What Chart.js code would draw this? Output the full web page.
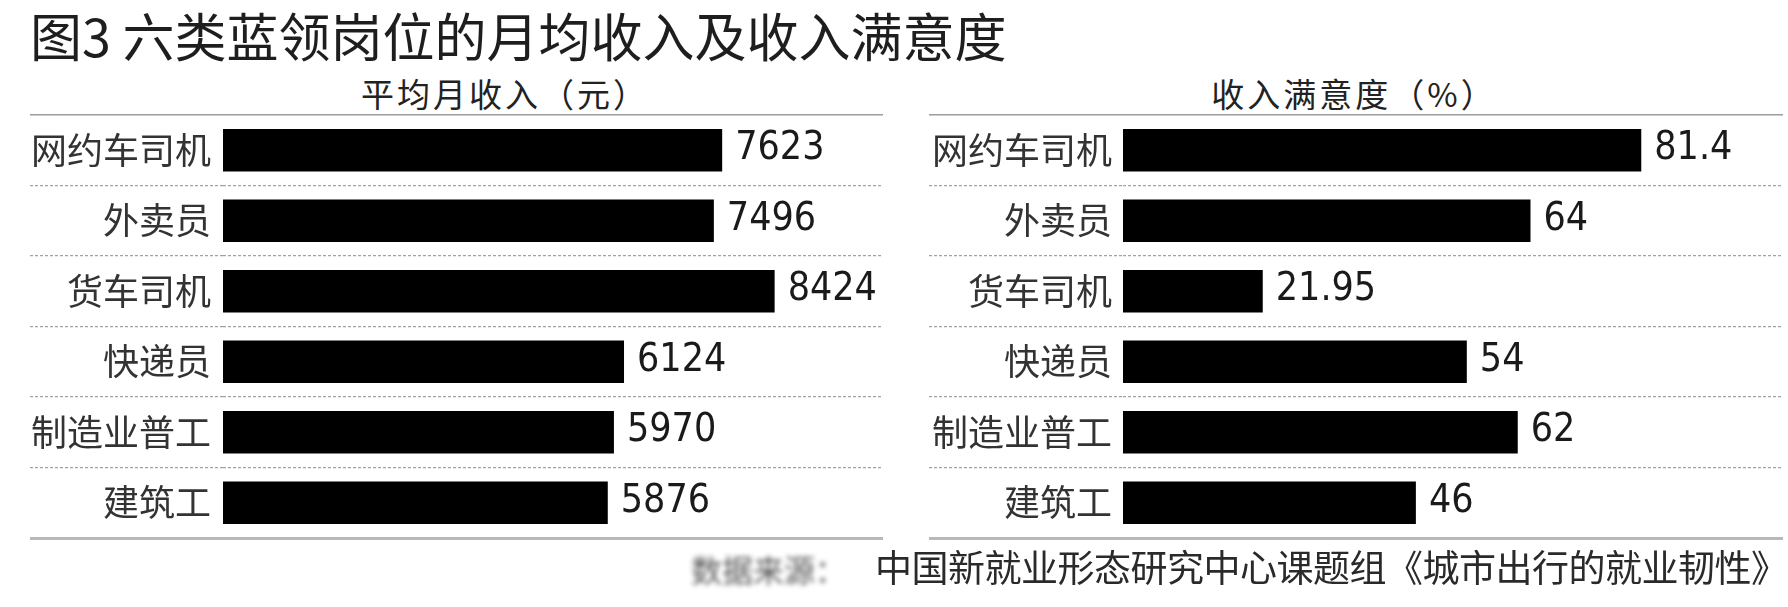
<!DOCTYPE html>
<html>
<head>
<meta charset="utf-8">
<script src="https://cdn.jsdelivr.net/npm/chart.js@4.4.1/dist/chart.umd.min.js"></script>
<style>
body { margin:0; background:#fff; width:1788px; height:607px; overflow:hidden; position:relative; font-family:"Noto Sans CJK SC", sans-serif; }
.t { position:absolute; white-space:nowrap; color:#1e1e1e; }
#title { left:30px; top:9px; font-size:52px; line-height:52px; }
.sub { top:77px; font-size:33px; line-height:33px; letter-spacing:3px; transform:translateX(-50%); color:#222; }
#sub1 { left:505px; }
#sub2 { left:1354px; }
#srcpre { left:691px; top:552px; font-size:31px; line-height:34px; color:#555; filter:blur(2.5px); }
#src { left:875px; top:548px; font-size:37px; line-height:37px; letter-spacing:-0.5px; color:#2a2a2a; }
canvas { position:absolute; top:0; }
#c1 { left:0; }
#c2 { left:890px; }
</style>
</head>
<body>
<div class="t" id="title">图3 六类蓝领岗位的月均收入及收入满意度</div>
<div class="t sub" id="sub1">平均月收入（元）</div>
<div class="t sub" id="sub2">收入满意度（%）</div>
<canvas id="c1" width="890" height="560"></canvas>
<canvas id="c2" width="898" height="560"></canvas>
<div class="t" id="srcpre">数据来源：</div>
<div class="t" id="src">中国新就业形态研究中心课题组《城市出行的就业韧性》</div>
<script>
// categories + the two series
const jobs = ['网约车司机', '外卖员', '货车司机', '快递员', '制造业普工', '建筑工'];
const income = [7623, 7496, 8424, 6124, 5970, 5876];
const satisfaction = [81.4, 64, 21.95, 54, 62, 46];

// top line solid, bottom line solid & thicker, the rest dotted
const lineKind = c => c.type === 'scale' ? 'bottom' : (c.index === 0 ? 'top' : 'mid');
const lineColor = c => ({ top: '#9c9c9c', bottom: '#b8b8b8', mid: '#a2a2a2' })[lineKind(c)];
const lineWidth = c => ({ top: 1.5, bottom: 3, mid: 1.2 })[lineKind(c)];
const lineDash = c => lineKind(c) === 'mid' ? [3, 2] : [];

// number at the end of each bar
const valueLabels = {
	id: 'valueLabels',
	afterDatasetsDraw(chart) {
		const ctx = chart.ctx;
		const meta = chart.getDatasetMeta(0);
		const vals = chart.data.datasets[0].data;
		ctx.save();
		ctx.font = '39px "DejaVu Sans Condensed", "DejaVu Sans", sans-serif';
		ctx.fillStyle = '#1a1a1a';
		ctx.textBaseline = 'middle';
		ctx.textAlign = 'left';
		meta.data.forEach((bar, i) => ctx.fillText(String(vals[i]), bar.x + 13, bar.y - 1));
		ctx.restore();
	}
};

function makeChart(id, values, xMax, padLeft, padRight, axisWidth, labelGap) {
	return new Chart(document.getElementById(id), {
		type: 'bar',
		data: {
			labels: jobs,
			datasets: [{
				data: values,
				backgroundColor: '#000',
				barPercentage: 0.6,
				categoryPercentage: 1
			}]
		},
		options: {
			indexAxis: 'y',
			responsive: false,
			animation: false,
			layout: { padding: { left: padLeft, right: padRight, top: 115, bottom: 22 } },
			plugins: { legend: { display: false }, tooltip: { enabled: false } },
			scales: {
				x: { display: false, min: 0, max: xMax },
				y: {
					afterFit: s => { s.width = axisWidth; },
					border: { display: false, dash: lineDash },
					grid: {
						offset: true,
						drawTicks: true,
						tickLength: axisWidth,
						color: lineColor,
						lineWidth: lineWidth,
						tickColor: lineColor,
						tickWidth: lineWidth,
						tickBorderDash: lineDash
					},
					ticks: {
						padding: labelGap - axisWidth,
						color: '#333',
						font: { family: '"Noto Sans CJK SC"', size: 36 }
					}
				}
			}
		},
		plugins: [valueLabels]
	});
}

makeChart('c1', income, 10079, 30, 7, 193, 12);
makeChart('c2', satisfaction, 103.66, 39, 5, 194, 11);
</script>
</body>
</html>
